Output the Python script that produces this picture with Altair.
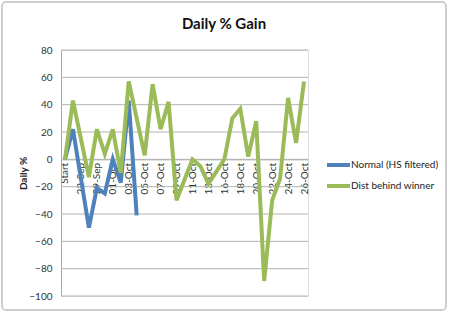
import altair as alt
import pandas as pd

categories = ["Start","21-Sep","22-Sep","28-Sep","29-Sep","30-Sep","01-Oct","02-Oct","03-Oct","04-Oct",
              "05-Oct","06-Oct","07-Oct","08-Oct","09-Oct","10-Oct","11-Oct","12-Oct","13-Oct","15-Oct",
              "16-Oct","17-Oct","18-Oct","19-Oct","20-Oct","21-Oct","22-Oct","23-Oct","24-Oct","25-Oct","26-Oct"]
shown_labels = categories[::2]
y_ticks = [-100, -80, -60, -40, -20, 0, 20, 40, 60, 80]

normal_name = "Normal (HS filtered)"
dist_name = "Dist behind winner"
normal_values = [0, 22, -14, -50, -21, -25, 0, -17, 43, -41]
dist_values = [0, 43, 15, -13, 22, 4, 22, -10, 57, 30, 3, 55, 22, 42, -30, -15, 0, -5, -18, -9,
               0, 30, 37, 2, 28, -89, -30, -14, 45, 12, 57]
title_text = "Daily % Gain"
BLUE, GREEN = "#4F81BD", "#9BBB59"

df_n = pd.DataFrame({"cat": categories[:len(normal_values)], "val": normal_values, "series": normal_name})
df_d = pd.DataFrame({"cat": categories, "val": dist_values, "series": dist_name})
df_grid = pd.DataFrame({"val": y_ticks})

W, H = 247, 246
FONT = "Lato"

color = alt.Color("series:N", legend=None,
                  scale=alt.Scale(domain=[normal_name, dist_name], range=[BLUE, GREEN]))

x = alt.X("cat:N", title=None, sort=categories,
          scale=alt.Scale(type="point", domain=categories, padding=0.5),
          axis=alt.Axis(values=shown_labels, labelAngle=-90, labelFontSize=10, labelFont=FONT,
                        labelColor="#333333", labelPadding=3, ticks=False, domainColor="#a6a6a6",
                        offset=-(H * 100 / 180), grid=False, labelOverlap=False))
yscale = alt.Scale(domain=[-100, 80], nice=False, zero=False)
y = alt.Y("val:Q", title="Daily %", scale=yscale,
          axis=alt.Axis(values=y_ticks, labelFontSize=10, labelFont=FONT,
                        labelColor="#333333", labelPadding=9, ticks=False, domainColor="#a6a6a6",
                        grid=False, titleFont=FONT, titleFontSize=10, titleFontWeight="bold",
                        titleColor="#222222", titlePadding=0))

grid = alt.Chart(df_grid).mark_rule(color="#b3b3b3", strokeWidth=1).encode(
    y=y, x=alt.value(0), x2=alt.value(W))

one = pd.DataFrame({"a": [0]})
border = alt.Chart(one).mark_rect(
    fill="transparent", stroke="#bfbfbf", strokeWidth=1.5, cornerRadius=4
).encode(x=alt.value(-59), x2=alt.value(446 - 61), y=alt.value(-48), y2=alt.value(310 - 50))

title = alt.Chart(one).mark_text(
    text=title_text, font=FONT, fontSize=15, fontWeight="bold", color="#111111",
    align="center", baseline="alphabetic"
).encode(x=alt.value(224 - 61), y=alt.value(29 - 50))

def legend_item(name, col, ypos):
    d = pd.DataFrame({"series": [name]})
    sym = alt.Chart(d).mark_rule(color=col, strokeWidth=4).encode(
        x=alt.value(266), x2=alt.value(289), y=alt.value(ypos))
    txt = alt.Chart(d).mark_text(font=FONT, fontSize=10, color="#222222", align="left",
                                 baseline="middle").encode(
        text="series:N", x=alt.value(290), y=alt.value(ypos))
    return sym + txt

line_n = alt.Chart(df_n).mark_line(strokeWidth=4).encode(x=x, y=y, color=color)
line_d = alt.Chart(df_d).mark_line(strokeWidth=4).encode(x=x, y=y, color=color)

chart = alt.layer(grid, line_n, line_d, border, title,
                  legend_item(normal_name, BLUE, 115), legend_item(dist_name, GREEN, 136)).properties(
    width=W, height=H,
    autosize=alt.AutoSizeParams(type="none"),
    padding={"left": 61, "top": 50, "right": 449 - 61 - W, "bottom": 312 - 50 - H},
).configure_view(stroke=None).configure(background="white")

chart.save("out.html", embed_options={"renderer": "svg", "actions": False})
